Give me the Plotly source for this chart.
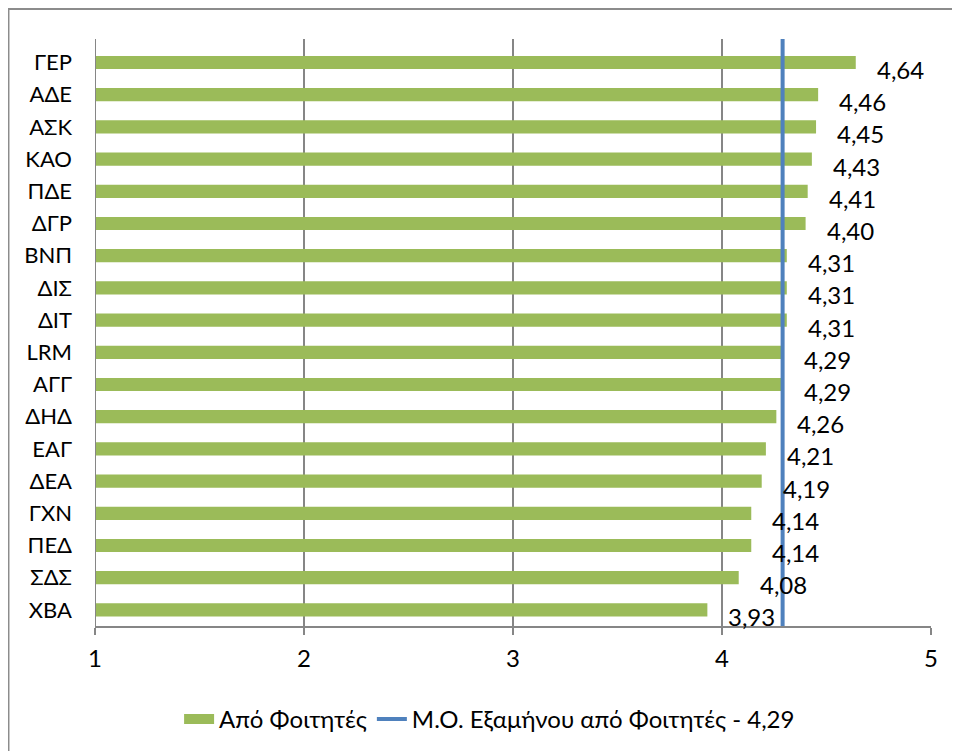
import plotly.graph_objects as go

categories = ["ΓΕΡ", "ΑΔΕ", "ΑΣΚ", "ΚΑΟ", "ΠΔΕ", "ΔΓΡ", "ΒΝΠ", "ΔΙΣ", "ΔΙΤ",
              "LRM", "ΑΓΓ", "ΔΗΔ", "ΕΑΓ", "ΔΕΑ", "ΓΧΝ", "ΠΕΔ", "ΣΔΣ", "ΧΒΑ"]
values = [4.64, 4.46, 4.45, 4.43, 4.41, 4.40, 4.31, 4.31, 4.31,
          4.29, 4.29, 4.26, 4.21, 4.19, 4.14, 4.14, 4.08, 3.93]
semester_avg = 4.29
bar_name = "Από Φοιτητές"
line_name = "Μ.Ο. Εξαμήνου από Φοιτητές - 4,29"
x_ticks = [1, 2, 3, 4, 5]

FONT = "Lato, Open Sans, sans-serif"
FS = 24
GREEN = "#9BBB59"
BLUE = "#4F81BD"
GRID = "#868686"

fig = go.Figure()
fig.add_trace(go.Bar(
    x=[v - 1 for v in values], base=1, y=categories, orientation="h",
    marker=dict(color=GREEN, line=dict(width=0)), width=0.41,
    name=bar_name, hoverinfo="skip", showlegend=False,
))
# legend entry for bars (wide green swatch)
fig.add_trace(go.Scatter(
    x=[None], y=[None], mode="lines", line=dict(color=GREEN, width=15),
    name=bar_name, hoverinfo="skip",
))
fig.add_trace(go.Scatter(
    x=[semester_avg, semester_avg], y=[0, 1], yaxis="y2", mode="lines",
    line=dict(color=BLUE, width=4), name=line_name, hoverinfo="skip",
))

for c, v in zip(categories, values):
    fig.add_annotation(
        x=v, y=c, text=f"{v:.2f}".replace(".", ","), showarrow=False,
        xanchor="left", xshift=19, yshift=-7,
        font=dict(family=FONT, size=FS, color="#000000"),
    )

# outer chart border (partially visible)
fig.add_shape(type="rect", xref="paper", yref="paper",
              x0=-0.1035, y0=-0.3, x1=1.06, y1=1.051,
              line=dict(color="#8C8C8C", width=2), layer="below")

fig.update_layout(
    width=960, height=751,
    margin=dict(l=87, r=37, t=31, b=133),
    paper_bgcolor="white", plot_bgcolor="white",
    font=dict(family=FONT, size=FS, color="#000000"),
    xaxis=dict(
        range=[1, 5], tickvals=x_ticks, ticktext=[str(t) for t in x_ticks],
        showgrid=True, gridcolor=GRID, gridwidth=2,
        showline=True, linecolor=GRID, linewidth=2, mirror=False,
        ticks="outside", ticklen=7, tickcolor=GRID, tickwidth=2,
        zeroline=False, tickfont=dict(size=FS), ticklabelstandoff=3,
    ),
    yaxis=dict(
        type="category", autorange="reversed",
        showline=False, showgrid=False, ticks="", ticklabelstandoff=22,
        tickfont=dict(size=22),
    ),
    yaxis2=dict(overlaying="y", range=[0, 1], visible=False, fixedrange=True),
    legend=dict(
        orientation="h", x=0.472, xanchor="center", y=-0.159, yanchor="middle",
        font=dict(size=FS), traceorder="normal",
    ),
    showlegend=True,
)
fig.add_shape(type="line", xref="x", yref="paper", x0=1, x1=1, y0=0, y1=1,
              line=dict(color=GRID, width=2))

fig.write_html("out.html")
